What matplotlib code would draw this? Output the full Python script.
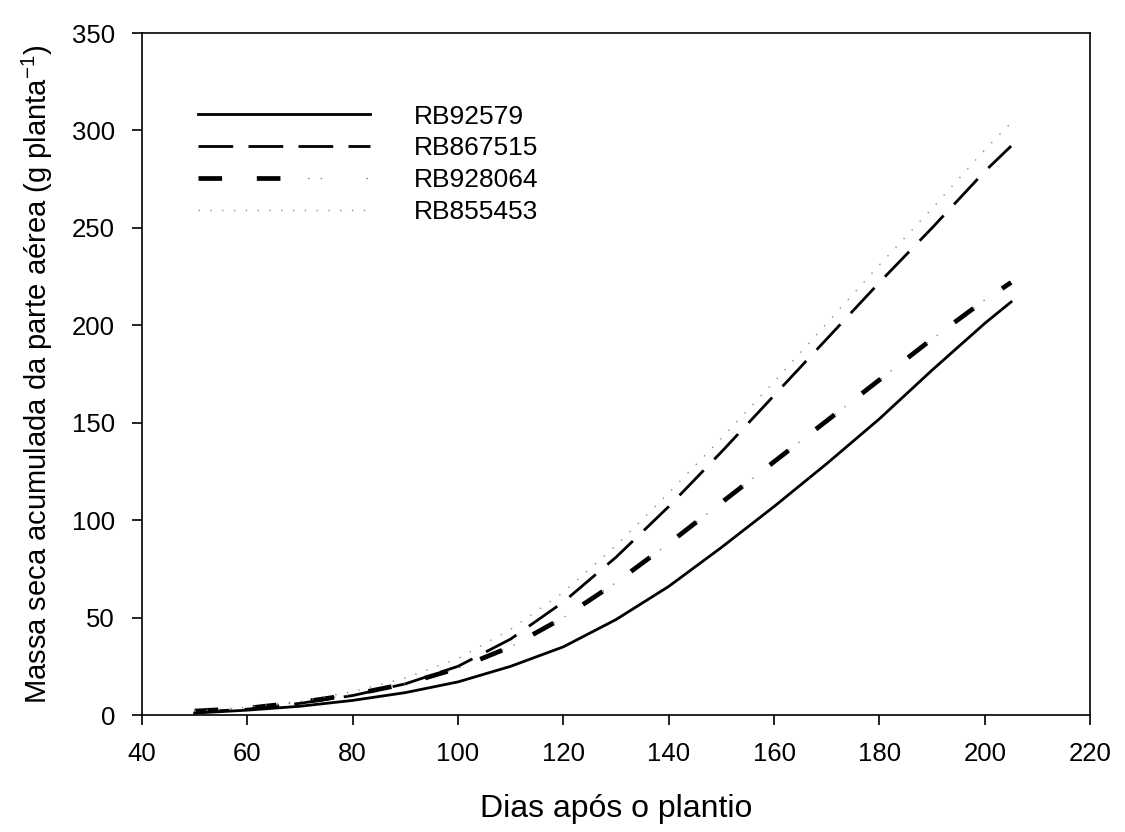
import matplotlib
matplotlib.use("Agg")
import matplotlib.pyplot as plt
from matplotlib.legend_handler import HandlerTuple

plt.rcParams["font.family"] = ["Liberation Sans", "DejaVu Sans"]
plt.rcParams["mathtext.fontset"] = "custom"
plt.rcParams["mathtext.rm"] = "Liberation Sans"
plt.rcParams["lines.scale_dashes"] = False

# dias apos o plantio
days = [50, 60, 70, 80, 90, 100, 110, 120, 130, 140, 150, 160, 170, 180, 190, 200, 205]

rb92579 = [1, 2.5, 4.5, 7.5, 11.5, 17, 25, 35, 49, 66, 86, 107, 129, 152, 177, 201, 212]
rb867515 = [1.5, 3, 6, 10, 16, 25, 39, 58, 81, 107, 135, 164, 193, 222, 250, 279, 292]
rb928064 = [2, 3.5, 6.5, 10.5, 16, 24, 35, 50, 68, 88, 109, 130, 151, 172, 193, 213, 222]
rb855453 = [2, 4, 7, 12, 19, 29, 44, 63, 87, 114, 142, 171, 201, 231, 260, 290, 304]

labels = ["RB92579", "RB867515", "RB928064", "RB855453"]

fig = plt.figure(figsize=(11.25, 8.32), dpi=100)
ax = fig.add_axes([0.1262, 0.1406, 0.8428, 0.8197])

l1, = ax.plot(days, rb92579, color="black", lw=2.0, linestyle="-")
l2, = ax.plot(days, rb867515, color="black", lw=2.0, linestyle=(0, (25, 11)))
# tracejado grosso com dois pontinhos cinza
l3a, = ax.plot(days, rb928064, color="black", lw=3.4, linestyle=(0, (17, 25)),
               solid_capstyle="butt", dash_capstyle="butt")
l3b, = ax.plot(days, rb928064, color="#777777", lw=0.9, linestyle=(25, (1, 8, 1, 32)))
l4, = ax.plot(days, rb855453, color="#888888", lw=1.0, linestyle=(0, (1, 7.5)))

ax.set_xlim(40, 220)
ax.set_ylim(0, 350)
ax.set_xticks(range(40, 221, 20))
ax.set_yticks(range(0, 351, 50))
ax.tick_params(axis="both", direction="out", length=7.5, width=1.2, labelsize=18.5,
               top=False, right=False)
ax.tick_params(axis="x", pad=12)
ax.tick_params(axis="y", pad=12)
for s in ax.spines.values():
    s.set_linewidth(1.2)

ax.set_xlabel("Dias após o plantio", fontsize=23, labelpad=20)
ax.set_ylabel(r"Massa seca acumulada da parte aérea (g planta$^{\mathregular{-1}}$)",
              fontsize=21, labelpad=12)

leg = ax.legend([l1, l2, (l3a, l3b), l4], labels,
                handler_map={tuple: HandlerTuple(ndivide=None, pad=0)},
                loc="upper left", bbox_to_anchor=(0.0345, 0.93), frameon=False,
                fontsize=19, handlelength=6.5, handletextpad=1.65, labelspacing=0.3)

fig.savefig("out.png", dpi=100)
